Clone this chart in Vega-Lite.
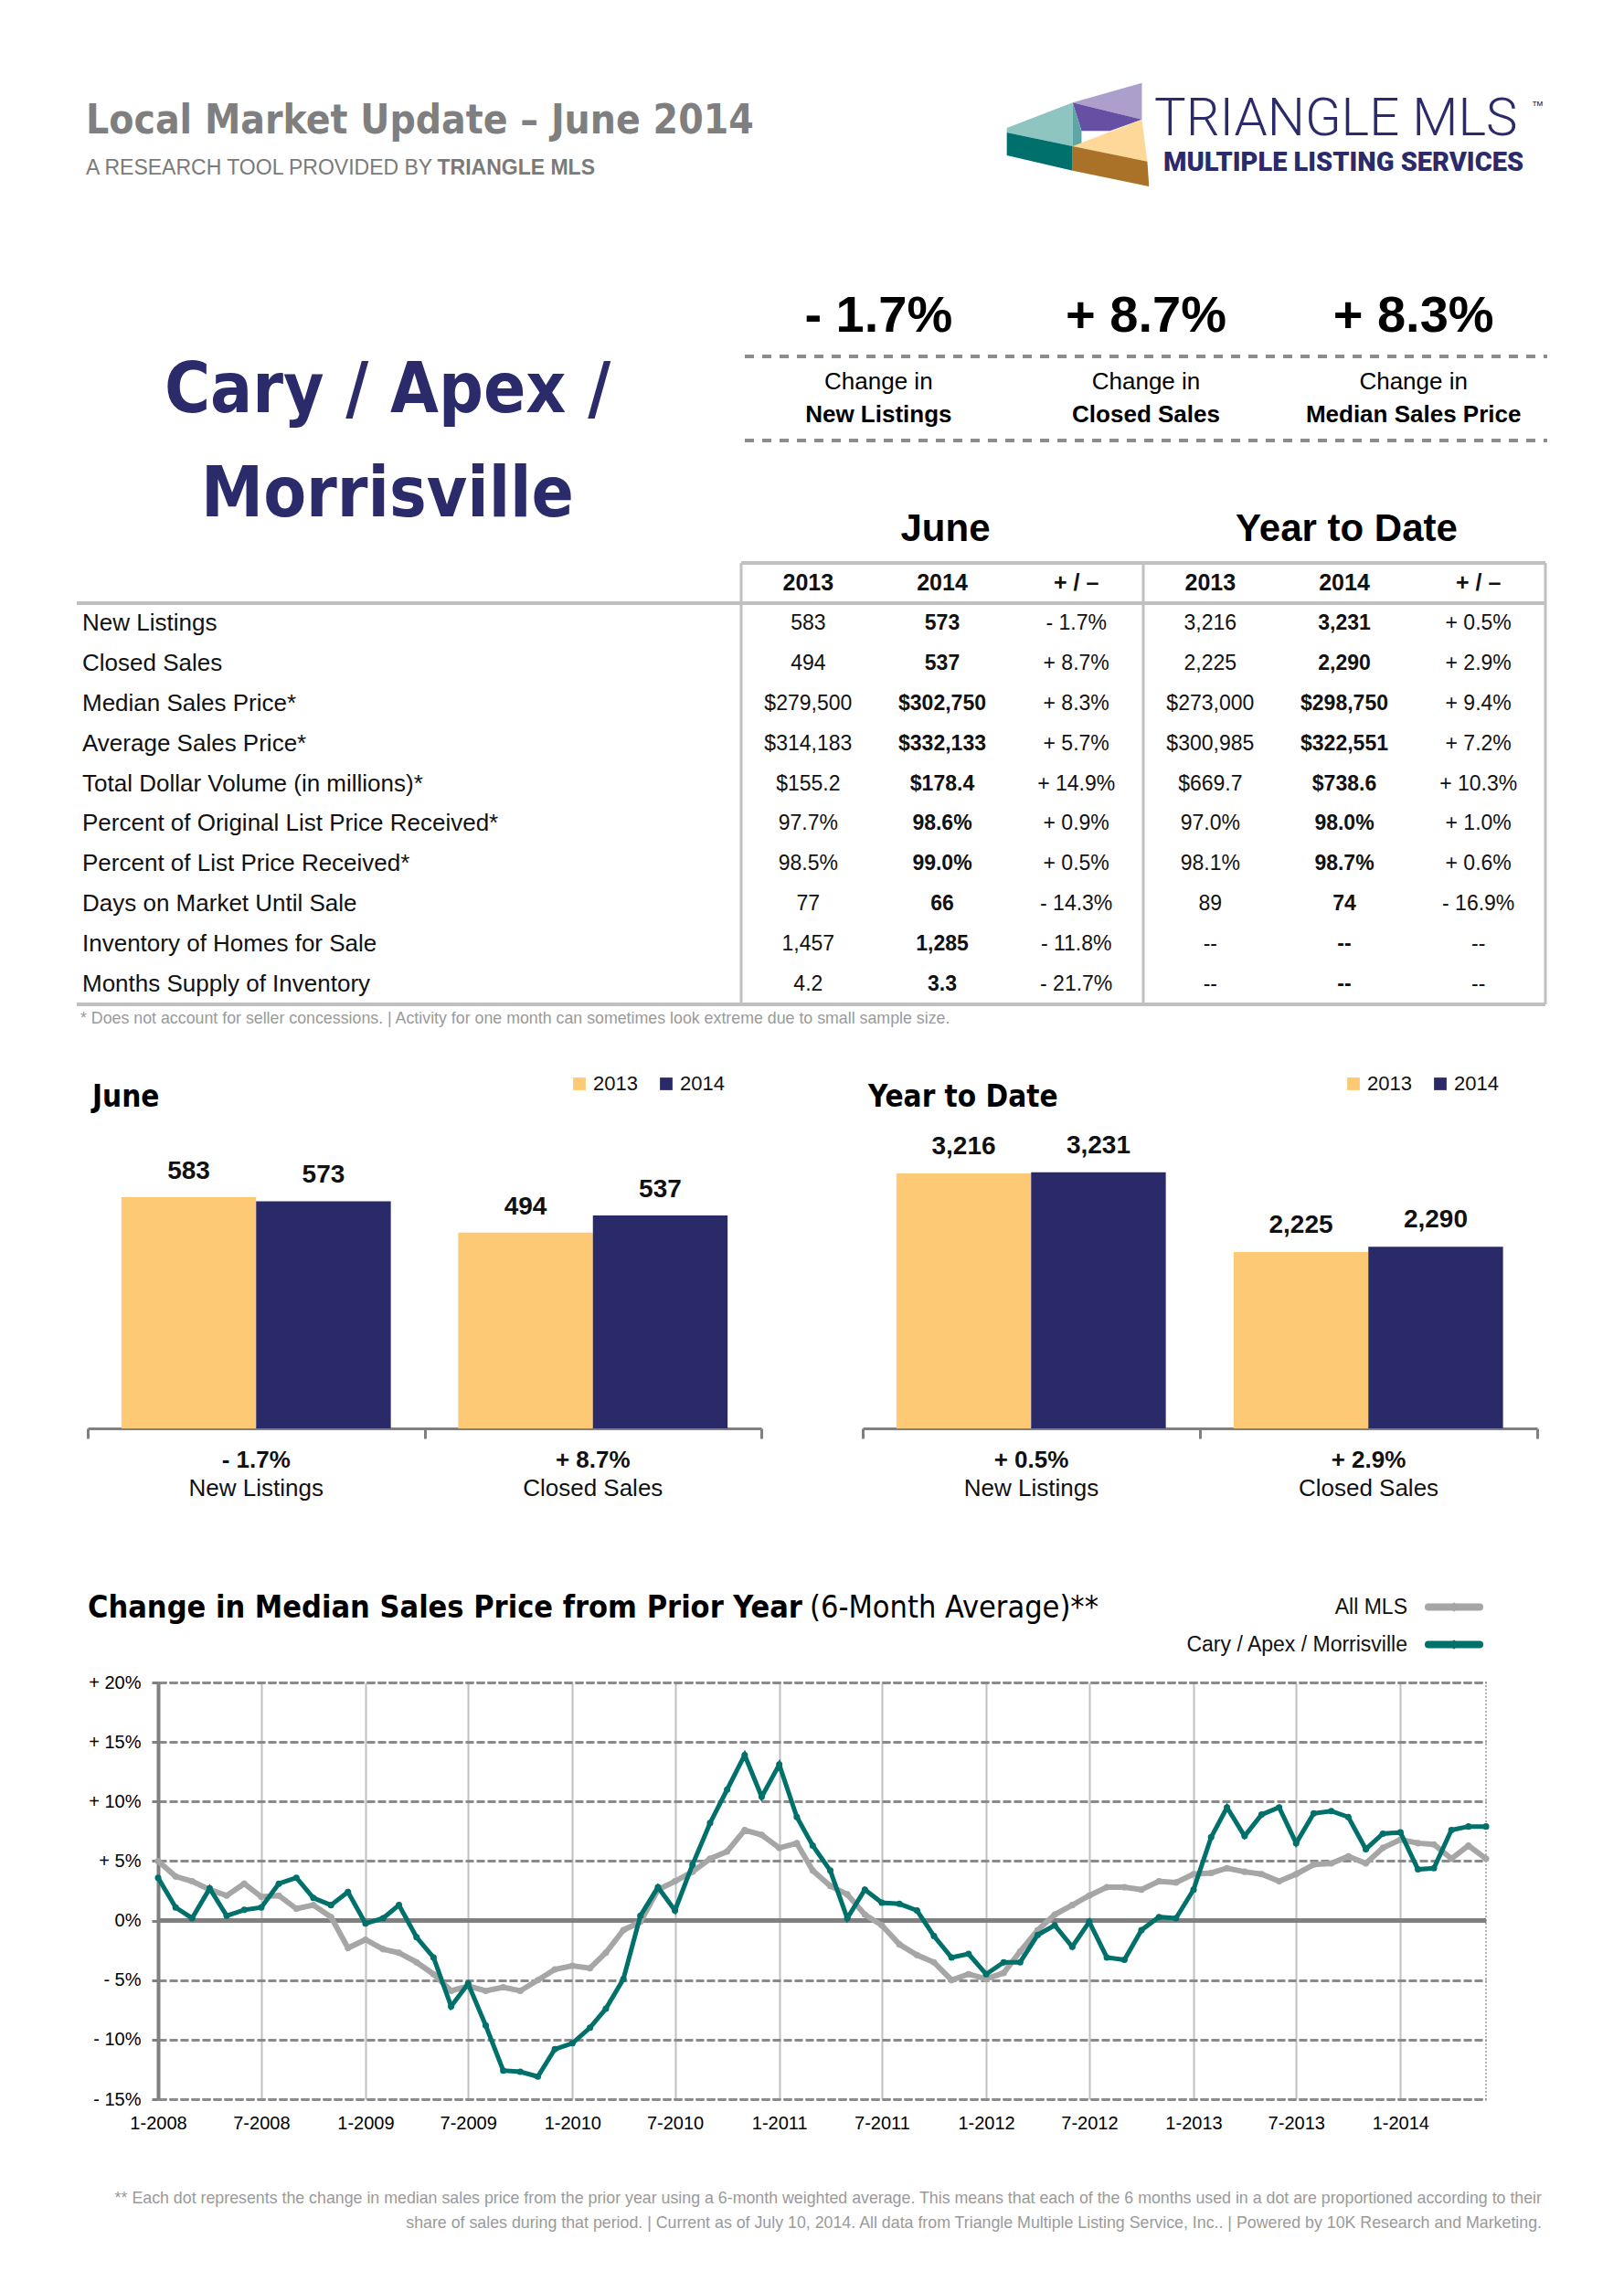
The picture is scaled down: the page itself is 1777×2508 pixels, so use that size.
{
  "$schema": "https://vega.github.io/schema/vega-lite/v6.json",
  "padding": 0,
  "background": "white",
  "config": {"view": {"stroke": null}, "font": "Liberation Sans"},
  "datasets": {
    "kpi": [
      {"l2": "New Listings", "v": "- 1.7%", "l1": "Change in"},
      {"l2": "Closed Sales", "v": "+ 8.7%", "l1": "Change in"},
      {"l2": "Median Sales Price", "v": "+ 8.3%", "l1": "Change in"}
    ],
    "tbl": [
      {"m": "hdr", "J13": "2013", "J14": "2014", "Jpm": "+ / –", "Y13": "2013", "Y14": "2014", "Ypm": "+ / –"},
      {"m": "New Listings", "J13": "583", "J14": "573", "Jpm": "- 1.7%", "Y13": "3,216", "Y14": "3,231", "Ypm": "+ 0.5%"},
      {"m": "Closed Sales", "J13": "494", "J14": "537", "Jpm": "+ 8.7%", "Y13": "2,225", "Y14": "2,290", "Ypm": "+ 2.9%"},
      {"m": "Median Sales Price*", "J13": "$279,500", "J14": "$302,750", "Jpm": "+ 8.3%", "Y13": "$273,000", "Y14": "$298,750", "Ypm": "+ 9.4%"},
      {"m": "Average Sales Price*", "J13": "$314,183", "J14": "$332,133", "Jpm": "+ 5.7%", "Y13": "$300,985", "Y14": "$322,551", "Ypm": "+ 7.2%"},
      {"m": "Total Dollar Volume (in millions)*", "J13": "$155.2", "J14": "$178.4", "Jpm": "+ 14.9%", "Y13": "$669.7", "Y14": "$738.6", "Ypm": "+ 10.3%"},
      {"m": "Percent of Original List Price Received*", "J13": "97.7%", "J14": "98.6%", "Jpm": "+ 0.9%", "Y13": "97.0%", "Y14": "98.0%", "Ypm": "+ 1.0%"},
      {"m": "Percent of List Price Received*", "J13": "98.5%", "J14": "99.0%", "Jpm": "+ 0.5%", "Y13": "98.1%", "Y14": "98.7%", "Ypm": "+ 0.6%"},
      {"m": "Days on Market Until Sale", "J13": "77", "J14": "66", "Jpm": "- 14.3%", "Y13": "89", "Y14": "74", "Ypm": "- 16.9%"},
      {"m": "Inventory of Homes for Sale", "J13": "1,457", "J14": "1,285", "Jpm": "- 11.8%", "Y13": "--", "Y14": "--", "Ypm": "--"},
      {"m": "Months Supply of Inventory", "J13": "4.2", "J14": "3.3", "Jpm": "- 21.7%", "Y13": "--", "Y14": "--", "Ypm": "--"}
    ],
    "bars": [
      {"chart": "June", "cat": "New Listings", "year": "2013", "v": 583},
      {"chart": "June", "cat": "New Listings", "year": "2014", "v": 573},
      {"chart": "June", "cat": "Closed Sales", "year": "2013", "v": 494},
      {"chart": "June", "cat": "Closed Sales", "year": "2014", "v": 537},
      {"chart": "Year to Date", "cat": "New Listings", "year": "2013", "v": 3216},
      {"chart": "Year to Date", "cat": "New Listings", "year": "2014", "v": 3231},
      {"chart": "Year to Date", "cat": "Closed Sales", "year": "2013", "v": 2225},
      {"chart": "Year to Date", "cat": "Closed Sales", "year": "2014", "v": 2290}
    ],
    "barpct": [
      {"chart": "June", "cat": "New Listings", "pct": "- 1.7%"},
      {"chart": "June", "cat": "Closed Sales", "pct": "+ 8.7%"},
      {"chart": "Year to Date", "cat": "New Listings", "pct": "+ 0.5%"},
      {"chart": "Year to Date", "cat": "Closed Sales", "pct": "+ 2.9%"}
    ],
    "leg": [{"s": "All MLS"}, {"s": "Cary / Apex / Morrisville"}],
    "foot": [
      {"l": 1, "t": "** Each dot represents the change in median sales price from the prior year using a 6-month weighted average. This means that each of the 6 months used in a dot are proportioned according to their"},
      {"l": 2, "t": "share of sales during that period.  |  Current as of July 10, 2014. All data from Triangle Multiple Listing Service, Inc..  |  Powered by 10K Research and Marketing."}
    ],
    "msp": [
      {"d": "2008-01-01", "mls": 5.0, "cary": 3.6},
      {"d": "2008-02-01", "mls": 3.7, "cary": 1.1},
      {"d": "2008-03-01", "mls": 3.3, "cary": 0.2},
      {"d": "2008-04-01", "mls": 2.6, "cary": 2.7},
      {"d": "2008-05-01", "mls": 2.1, "cary": 0.4},
      {"d": "2008-06-01", "mls": 3.1, "cary": 0.9},
      {"d": "2008-07-01", "mls": 2.0, "cary": 1.1},
      {"d": "2008-08-01", "mls": 2.1, "cary": 3.1},
      {"d": "2008-09-01", "mls": 1.0, "cary": 3.6},
      {"d": "2008-10-01", "mls": 1.3, "cary": 1.9},
      {"d": "2008-11-01", "mls": 0.3, "cary": 1.3},
      {"d": "2008-12-01", "mls": -2.3, "cary": 2.4},
      {"d": "2009-01-01", "mls": -1.6, "cary": -0.25},
      {"d": "2009-02-01", "mls": -2.4, "cary": 0.2},
      {"d": "2009-03-01", "mls": -2.7, "cary": 1.3},
      {"d": "2009-04-01", "mls": -3.5, "cary": -1.4},
      {"d": "2009-05-01", "mls": -4.5, "cary": -3.1},
      {"d": "2009-06-01", "mls": -5.9, "cary": -7.2},
      {"d": "2009-07-01", "mls": -5.5, "cary": -5.3},
      {"d": "2009-08-01", "mls": -5.9, "cary": -8.8},
      {"d": "2009-09-01", "mls": -5.6, "cary": -12.6},
      {"d": "2009-10-01", "mls": -5.9, "cary": -12.7},
      {"d": "2009-11-01", "mls": -5.0, "cary": -13.1},
      {"d": "2009-12-01", "mls": -4.1, "cary": -10.8},
      {"d": "2010-01-01", "mls": -3.8, "cary": -10.3},
      {"d": "2010-02-01", "mls": -4.0, "cary": -9.0},
      {"d": "2010-03-01", "mls": -2.7, "cary": -7.4},
      {"d": "2010-04-01", "mls": -0.8, "cary": -4.9},
      {"d": "2010-05-01", "mls": -0.1, "cary": 0.4},
      {"d": "2010-06-01", "mls": 2.6, "cary": 2.8},
      {"d": "2010-07-01", "mls": 3.3, "cary": 0.85},
      {"d": "2010-08-01", "mls": 4.1, "cary": 4.7},
      {"d": "2010-09-01", "mls": 5.2, "cary": 8.2},
      {"d": "2010-10-01", "mls": 5.8, "cary": 11.0},
      {"d": "2010-11-01", "mls": 7.6, "cary": 13.9},
      {"d": "2010-12-01", "mls": 7.2, "cary": 10.4},
      {"d": "2011-01-01", "mls": 6.1, "cary": 13.1},
      {"d": "2011-02-01", "mls": 6.5, "cary": 8.7},
      {"d": "2011-03-01", "mls": 4.2, "cary": 6.3},
      {"d": "2011-04-01", "mls": 2.9, "cary": 4.2},
      {"d": "2011-05-01", "mls": 2.2, "cary": 0.2},
      {"d": "2011-06-01", "mls": 0.5, "cary": 2.6},
      {"d": "2011-07-01", "mls": -0.4, "cary": 1.5},
      {"d": "2011-08-01", "mls": -2.0, "cary": 1.4},
      {"d": "2011-09-01", "mls": -2.9, "cary": 0.85},
      {"d": "2011-10-01", "mls": -3.5, "cary": -1.3},
      {"d": "2011-11-01", "mls": -5.0, "cary": -3.1},
      {"d": "2011-12-01", "mls": -4.5, "cary": -2.8},
      {"d": "2012-01-01", "mls": -4.9, "cary": -4.5},
      {"d": "2012-02-01", "mls": -4.4, "cary": -3.5},
      {"d": "2012-03-01", "mls": -2.6, "cary": -3.5},
      {"d": "2012-04-01", "mls": -0.8, "cary": -1.2},
      {"d": "2012-05-01", "mls": 0.5, "cary": -0.4},
      {"d": "2012-06-01", "mls": 1.3, "cary": -2.2},
      {"d": "2012-07-01", "mls": 2.1, "cary": -0.1},
      {"d": "2012-08-01", "mls": 2.8, "cary": -3.1},
      {"d": "2012-09-01", "mls": 2.8, "cary": -3.3},
      {"d": "2012-10-01", "mls": 2.6, "cary": -0.8},
      {"d": "2012-11-01", "mls": 3.3, "cary": 0.3},
      {"d": "2012-12-01", "mls": 3.2, "cary": 0.2},
      {"d": "2013-01-01", "mls": 3.9, "cary": 2.6},
      {"d": "2013-02-01", "mls": 4.0, "cary": 7.0},
      {"d": "2013-03-01", "mls": 4.4, "cary": 9.5},
      {"d": "2013-04-01", "mls": 4.1, "cary": 7.1},
      {"d": "2013-05-01", "mls": 3.9, "cary": 8.9},
      {"d": "2013-06-01", "mls": 3.3, "cary": 9.5},
      {"d": "2013-07-01", "mls": 3.9, "cary": 6.5},
      {"d": "2013-08-01", "mls": 4.7, "cary": 9.0},
      {"d": "2013-09-01", "mls": 4.8, "cary": 9.2},
      {"d": "2013-10-01", "mls": 5.4, "cary": 8.7},
      {"d": "2013-11-01", "mls": 4.8, "cary": 6.0},
      {"d": "2013-12-01", "mls": 6.1, "cary": 7.3},
      {"d": "2014-01-01", "mls": 6.8, "cary": 7.4},
      {"d": "2014-02-01", "mls": 6.5, "cary": 4.3},
      {"d": "2014-03-01", "mls": 6.4, "cary": 4.4},
      {"d": "2014-04-01", "mls": 5.2, "cary": 7.6},
      {"d": "2014-05-01", "mls": 6.3, "cary": 7.9},
      {"d": "2014-06-01", "mls": 5.2, "cary": 7.9}
    ]
  },
  "spacing": 0,
  "resolve": {"scale": {"color": "independent"}, "legend": {"color": "independent"}},
  "vconcat": [
    {"spacing": 0, "hconcat": [
      {"width": 94, "height": 232, "data": {"values": []}, "mark": "point"},
      {"spacing": 0, "bounds": "flush", "vconcat": [
        {"width": 1, "height": 107, "data": {"values": []}, "mark": "point"},
        {"width": 966, "height": 51, "data": {"values": [{"t": "Local Market Update – June 2014"}]},
         "mark": {"type": "text", "align": "left", "baseline": "middle", "font": "DejaVu Sans Condensed", "fontSize": 44, "fontWeight": "bold", "color": "#7f7f7f"},
         "encoding": {"text": {"field": "t"}, "x": {"datum": 0, "type": "quantitative", "scale": {"domain": [0, 1], "nice": false, "zero": false}, "axis": null}}},
        {"width": 557, "height": 52, "data": {"values": [{"a": "A RESEARCH TOOL PROVIDED BY", "b": "TRIANGLE MLS"}]}, "layer": [
          {"mark": {"type": "text", "align": "left", "baseline": "middle", "fontSize": 23, "color": "#7a7a7a"},
           "encoding": {"text": {"field": "a"}, "x": {"datum": 0, "type": "quantitative", "scale": {"domain": [0, 1], "nice": false, "zero": false}, "axis": null}}},
          {"mark": {"type": "text", "align": "right", "baseline": "middle", "fontSize": 23, "fontWeight": "bold", "color": "#7a7a7a"},
           "encoding": {"text": {"field": "b"}, "x": {"datum": 1, "type": "quantitative"}}}
        ]}
      ]},
      {"width": 40, "height": 1, "data": {"values": []}, "mark": "point"},
      {"spacing": 0, "bounds": "flush", "vconcat": [
        {"width": 1, "height": 67, "data": {"values": []}, "mark": "point"},
        {"width": 160, "height": 160, "data": {"values": [{}]}, "layer": [
          {"mark": {"type": "point", "shape": "M -0.079 -0.434 L 0.869 -0.704 L 0.869 -0.204 Z", "size": 25600, "filled": true, "opacity": 1, "strokeWidth": 0, "color": "#ad9fcb"}},
          {"mark": {"type": "point", "shape": "M -0.079 -0.434 L 0.869 -0.204 L 0.431 -0.046 L 0.043 -0.046 Z", "size": 25600, "filled": true, "opacity": 1, "strokeWidth": 0, "color": "#6650a4"}},
          {"mark": {"type": "point", "shape": "M -0.979 -0.0875 L -0.079 -0.434 L -0.079 0.1625 L -0.979 -0.025 Z", "size": 25600, "filled": true, "opacity": 1, "strokeWidth": 0, "color": "#8ec5c0"}},
          {"mark": {"type": "point", "shape": "M -0.079 -0.434 L 0.043 -0.046 L 0.043 0.1625 L -0.079 0.1625 Z", "size": 25600, "filled": true, "opacity": 1, "strokeWidth": 0, "color": "#5ea6a3"}},
          {"mark": {"type": "point", "shape": "M -0.979 -0.025 L -0.079 0.1625 L -0.079 0.496 L -0.979 0.2875 Z", "size": 25600, "filled": true, "opacity": 1, "strokeWidth": 0, "color": "#00706c"}},
          {"mark": {"type": "point", "shape": "M -0.079 0.1625 L 0.869 -0.204 L 0.943 0.371 Z", "size": 25600, "filled": true, "opacity": 1, "strokeWidth": 0, "color": "#fdd898"}},
          {"mark": {"type": "point", "shape": "M -0.079 0.1625 L 0.943 0.371 L 0.966 0.7125 L -0.079 0.496 Z", "size": 25600, "filled": true, "opacity": 1, "strokeWidth": 0, "color": "#a97228"}}
        ]}
      ]},
      {"width": 3, "height": 1, "data": {"values": []}, "mark": "point"},
      {"spacing": 0, "bounds": "flush", "vconcat": [
        {"width": 1, "height": 106, "data": {"values": []}, "mark": "point"},
        {"width": 413, "height": 49, "data": {"values": [{"t": "TRIANGLE MLS", "tm": "™"}]}, "layer": [
          {"mark": {"type": "text", "align": "left", "baseline": "middle", "font": "Roboto", "fontWeight": 300, "fontSize": 58, "color": "#2b2a6a"},
           "encoding": {"text": {"field": "t"}, "x": {"datum": 0, "type": "quantitative", "scale": {"domain": [0, 1], "nice": false, "zero": false}, "axis": null}}},
          {"mark": {"type": "text", "align": "left", "baseline": "middle", "fontSize": 13, "dy": -15, "color": "#2b2a6a"},
           "encoding": {"text": {"field": "tm"}, "x": {"datum": 1, "type": "quantitative"}}}
        ]},
        {"width": 413, "height": 46, "data": {"values": [{"t": "MULTIPLE LISTING SERVICES"}]},
         "mark": {"type": "text", "align": "left", "baseline": "middle", "font": "Roboto", "fontWeight": 900, "fontSize": 29, "dx": 10, "color": "#2b2a6a"},
         "encoding": {"text": {"field": "t"}, "x": {"datum": 0, "type": "quantitative", "scale": {"domain": [0, 1], "nice": false, "zero": false}, "axis": null}}}
      ]}
    ]},
    {"spacing": 0, "hconcat": [
      {"width": 35, "height": 368, "data": {"values": []}, "mark": "point"},
      {"spacing": 0, "bounds": "flush", "vconcat": [
        {"width": 1, "height": 140, "data": {"values": []}, "mark": "point"},
        {"width": 778, "height": 111, "data": {"values": [{"t": "Cary / Apex /"}]},
         "mark": {"type": "text", "baseline": "middle", "font": "DejaVu Sans Condensed", "fontSize": 76, "fontWeight": "bold", "color": "#2b2a6b"},
         "encoding": {"text": {"field": "t"}}},
        {"width": 778, "height": 117, "data": {"values": [{"t": "Morrisville"}]},
         "mark": {"type": "text", "baseline": "middle", "font": "DejaVu Sans Condensed", "fontSize": 76, "fontWeight": "bold", "color": "#2b2a6b"},
         "encoding": {"text": {"field": "t"}}}
      ]},
      {"spacing": 0, "bounds": "flush", "vconcat": [
        {"width": 1, "height": 71, "data": {"values": []}, "mark": "point"},
        {"width": 878, "height": 85, "data": {"name": "kpi"},
         "mark": {"type": "text", "baseline": "middle", "fontSize": 56, "fontWeight": "bold", "color": "#000"},
         "encoding": {"text": {"field": "v"}, "x": {"field": "l2", "type": "nominal", "sort": null, "scale": {"type": "band", "domain": ["New Listings", "Closed Sales", "Median Sales Price"], "paddingInner": 0, "paddingOuter": 0}, "axis": null}}},
        {"width": 878, "height": 4, "data": {"values": [{}]},
         "mark": {"type": "rule", "color": "#8c8c8c", "strokeWidth": 4, "strokeDash": [10, 9]},
         "encoding": {"x": {"datum": 0, "type": "quantitative", "scale": {"domain": [0, 1], "nice": false, "zero": false}, "axis": null}, "x2": {"datum": 1}}},
        {"width": 878, "height": 52, "data": {"name": "kpi"},
         "mark": {"type": "text", "baseline": "middle", "fontSize": 26, "color": "#000"},
         "encoding": {"text": {"field": "l1"}, "x": {"field": "l2", "type": "nominal", "sort": null, "scale": {"type": "band", "domain": ["New Listings", "Closed Sales", "Median Sales Price"], "paddingInner": 0, "paddingOuter": 0}, "axis": null}}},
        {"width": 878, "height": 20, "data": {"name": "kpi"},
         "mark": {"type": "text", "baseline": "middle", "fontSize": 26, "fontWeight": "bold", "color": "#000"},
         "encoding": {"text": {"field": "l2"}, "x": {"field": "l2", "type": "nominal", "sort": null, "scale": {"type": "band", "domain": ["New Listings", "Closed Sales", "Median Sales Price"], "paddingInner": 0, "paddingOuter": 0}, "axis": null}}},
        {"width": 1, "height": 16, "data": {"values": []}, "mark": "point"},
        {"width": 878, "height": 4, "data": {"values": [{}]},
         "mark": {"type": "rule", "color": "#8c8c8c", "strokeWidth": 4, "strokeDash": [10, 9]},
         "encoding": {"x": {"datum": 0, "type": "quantitative", "scale": {"domain": [0, 1], "nice": false, "zero": false}, "axis": null}, "x2": {"datum": 1}}},
        {"width": 1, "height": 73, "data": {"values": []}, "mark": "point"},
        {"width": 878, "height": 43, "data": {"values": [{"h": "June"}, {"h": "Year to Date"}]},
         "mark": {"type": "text", "baseline": "middle", "fontSize": 42, "fontWeight": "bold", "color": "#000"},
         "encoding": {"text": {"field": "h"}, "x": {"field": "h", "type": "nominal", "sort": null, "scale": {"type": "band", "domain": ["June", "Year to Date"], "paddingInner": 0, "paddingOuter": 0}, "axis": null}}}
      ]}
    ]},
    {"spacing": 0, "vconcat": [
      {"width": 1, "height": 14, "data": {"values": []}, "mark": "point"},
      {"spacing": 0, "bounds": "flush", "hconcat": [
        {"width": 84, "height": 1, "data": {"values": []}, "mark": "point"},
        {"width": 727, "height": 483, "data": {"name": "tbl"}, "layer": [
          {"transform": [{"filter": "datum.m != 'hdr'"}],
           "mark": {"type": "text", "align": "left", "baseline": "middle", "fontSize": 26, "color": "#111", "dx": 6},
           "encoding": {"text": {"field": "m"},
             "x": {"datum": 0, "type": "quantitative", "scale": {"domain": [0, 1], "nice": false, "zero": false}, "axis": null},
             "y": {"field": "m", "type": "nominal", "sort": null, "scale": {"type": "band", "domain": ["hdr", "New Listings", "Closed Sales", "Median Sales Price*", "Average Sales Price*", "Total Dollar Volume (in millions)*", "Percent of Original List Price Received*", "Percent of List Price Received*", "Days on Market Until Sale", "Inventory of Homes for Sale", "Months Supply of Inventory"], "paddingInner": 0, "paddingOuter": 0}, "axis": null}}},
          {"transform": [{"filter": "datum.m == 'New Listings'"}],
           "mark": {"type": "rule", "color": "#c0c0c0", "strokeWidth": 4},
           "encoding": {"x": {"datum": 0, "type": "quantitative"}, "x2": {"datum": 1},
             "y": {"field": "m", "type": "nominal", "sort": null, "bandPosition": 0, "axis": null}}},
          {"transform": [{"filter": "datum.m == 'Months Supply of Inventory'"}],
           "mark": {"type": "rule", "color": "#c0c0c0", "strokeWidth": 4},
           "encoding": {"x": {"datum": 0, "type": "quantitative"}, "x2": {"datum": 1},
             "y": {"field": "m", "type": "nominal", "sort": null, "bandPosition": 1, "axis": null}}}
        ]},
        {"width": 880, "height": 483, "data": {"name": "tbl"},
         "encoding": {"y": {"field": "m", "type": "nominal", "sort": null, "scale": {"type": "band", "domain": ["hdr", "New Listings", "Closed Sales", "Median Sales Price*", "Average Sales Price*", "Total Dollar Volume (in millions)*", "Percent of Original List Price Received*", "Percent of List Price Received*", "Days on Market Until Sale", "Inventory of Homes for Sale", "Months Supply of Inventory"], "paddingInner": 0, "paddingOuter": 0}, "axis": null}},
         "layer": [
          {"transform": [{"filter": "datum.m == 'hdr'"}, {"fold": ["J13", "J14", "Jpm", "Y13", "Y14", "Ypm"], "as": ["col", "val"]}],
           "mark": {"type": "text", "baseline": "middle", "fontSize": 25, "fontWeight": "bold", "color": "#111"},
           "encoding": {"text": {"field": "val"}, "x": {"field": "col", "type": "nominal", "sort": null, "scale": {"type": "band", "domain": ["J13", "J14", "Jpm", "Y13", "Y14", "Ypm"], "paddingInner": 0, "paddingOuter": 0}, "axis": null}}},
          {"transform": [{"filter": "datum.m != 'hdr'"}, {"fold": ["J13", "Jpm", "Y13", "Ypm"], "as": ["col", "val"]}],
           "mark": {"type": "text", "baseline": "middle", "fontSize": 23, "color": "#111"},
           "encoding": {"text": {"field": "val"}, "x": {"field": "col", "type": "nominal", "sort": null, "axis": null}}},
          {"transform": [{"filter": "datum.m != 'hdr'"}, {"fold": ["J14", "Y14"], "as": ["col", "val"]}],
           "mark": {"type": "text", "baseline": "middle", "fontSize": 23, "fontWeight": "bold", "color": "#111"},
           "encoding": {"text": {"field": "val"}, "x": {"field": "col", "type": "nominal", "sort": null, "axis": null}}},
          {"transform": [{"filter": "datum.m == 'hdr'"}],
           "mark": {"type": "rule", "color": "#c0c0c0", "strokeWidth": 4},
           "encoding": {"y": {"field": "m", "type": "nominal", "sort": null, "bandPosition": 0, "axis": null}}},
          {"transform": [{"filter": "datum.m == 'New Listings'"}],
           "mark": {"type": "rule", "color": "#c0c0c0", "strokeWidth": 4},
           "encoding": {"y": {"field": "m", "type": "nominal", "sort": null, "bandPosition": 0, "axis": null}}},
          {"transform": [{"filter": "datum.m == 'Months Supply of Inventory'"}],
           "mark": {"type": "rule", "color": "#c0c0c0", "strokeWidth": 4},
           "encoding": {"y": {"field": "m", "type": "nominal", "sort": null, "bandPosition": 1, "axis": null}}},
          {"data": {"values": [{"col": "J13"}, {"col": "Y13"}]},
           "mark": {"type": "rule", "color": "#c0c0c0", "strokeWidth": 3},
           "encoding": {"y": null, "x": {"field": "col", "type": "nominal", "sort": null, "bandPosition": 0, "axis": null}}},
          {"data": {"values": [{"col": "Ypm"}]},
           "mark": {"type": "rule", "color": "#c0c0c0", "strokeWidth": 3},
           "encoding": {"y": null, "x": {"field": "col", "type": "nominal", "sort": null, "bandPosition": 1, "axis": null}}}
        ]}
      ]},
      {"spacing": 0, "bounds": "flush", "hconcat": [
        {"width": 88, "height": 1, "data": {"values": []}, "mark": "point"},
        {"width": 1000, "height": 28, "data": {"values": [{"t": "* Does not account for seller concessions.  |  Activity for one month can sometimes look extreme due to small sample size."}]},
         "mark": {"type": "text", "align": "left", "baseline": "middle", "fontSize": 17.8, "color": "#9a9a9a"},
         "encoding": {"text": {"field": "t"}, "x": {"datum": 0, "type": "quantitative", "scale": {"domain": [0, 1], "nice": false, "zero": false}, "axis": null}}}
      ]},
      {"width": 1, "height": 6, "data": {"values": []}, "mark": "point"}
    ]},
    {"spacing": 0, "resolve": {"scale": {"color": "independent"}, "legend": {"color": "independent"}}, "hconcat": [
      {"width": 94, "height": 525, "data": {"values": []}, "mark": "point"},
      {"spacing": 0, "bounds": "flush", "vconcat": [
        {"width": 1, "height": 51, "data": {"values": []}, "mark": "point"},
        {"width": 737, "height": 30, "data": {"values": [{"t": "June"}]},
         "mark": {"type": "text", "align": "left", "baseline": "middle", "dx": 5, "font": "DejaVu Sans Condensed", "fontSize": 33, "fontWeight": "bold", "color": "#000"},
         "encoding": {"text": {"field": "t"}, "x": {"datum": 0, "type": "quantitative", "scale": {"domain": [0, 1], "nice": false, "zero": false}, "axis": null}}},
        {"width": 737, "height": 347, "layer": [
          {"data": {"name": "bars"}, "transform": [{"filter": "datum.chart == 'June'"}],
           "mark": {"type": "bar"},
           "encoding": {
             "x": {"field": "cat", "type": "nominal", "sort": null, "scale": {"domain": ["New Listings", "Closed Sales"], "paddingInner": 0, "paddingOuter": 0}, "axis": {"title": null, "labels": false, "domain": true, "domainColor": "#808080", "domainWidth": 3, "ticks": true, "tickBand": "extent", "tickColor": "#808080", "tickWidth": 3, "tickSize": 11, "grid": false}},
             "xOffset": {"field": "year", "type": "nominal", "scale": {"domain": ["2013", "2014"], "paddingInner": 0, "paddingOuter": 0.25}},
             "y": {"field": "v", "type": "quantitative", "scale": {"domain": [0, 800], "nice": false, "zero": true}, "axis": null},
             "color": {"field": "year", "type": "nominal", "scale": {"domain": ["2013", "2014"], "range": ["#fdc974", "#2b2a69"]},
               "legend": {"title": null, "orient": "none", "legendX": 527, "legendY": 40, "direction": "horizontal", "symbolType": "square", "symbolSize": 190, "symbolStrokeWidth": 0, "labelFontSize": 22, "labelColor": "#111", "labelOffset": 4, "columnPadding": 20}}
           }},
          {"data": {"name": "bars"}, "transform": [{"filter": "datum.chart == 'June'"}],
           "mark": {"type": "text", "baseline": "alphabetic", "dy": -20, "fontSize": 28, "fontWeight": "bold", "color": "#111"},
           "encoding": {
             "x": {"field": "cat", "type": "nominal", "sort": null, "axis": {"title": null, "labels": false, "domain": true, "domainColor": "#808080", "domainWidth": 3, "ticks": true, "tickBand": "extent", "tickColor": "#808080", "tickWidth": 3, "tickSize": 11, "grid": false}},
             "xOffset": {"field": "year", "type": "nominal"},
             "y": {"field": "v", "type": "quantitative", "axis": null},
             "text": {"field": "v", "type": "quantitative", "format": ","}
           }},
          {"data": {"name": "barpct"}, "transform": [{"filter": "datum.chart == 'June'"}],
           "mark": {"type": "text", "baseline": "middle", "dy": 34.5, "fontSize": 26, "fontWeight": "bold", "color": "#111"},
           "encoding": {
             "x": {"field": "cat", "type": "nominal", "sort": null, "axis": {"title": null, "labels": false, "domain": true, "domainColor": "#808080", "domainWidth": 3, "ticks": true, "tickBand": "extent", "tickColor": "#808080", "tickWidth": 3, "tickSize": 11, "grid": false}},
             "y": {"datum": 0, "type": "quantitative", "axis": null},
             "text": {"field": "pct"}
           }},
          {"data": {"name": "barpct"}, "transform": [{"filter": "datum.chart == 'June'"}],
           "mark": {"type": "text", "baseline": "middle", "dy": 65.5, "fontSize": 26, "color": "#111"},
           "encoding": {
             "x": {"field": "cat", "type": "nominal", "sort": null, "axis": {"title": null, "labels": false, "domain": true, "domainColor": "#808080", "domainWidth": 3, "ticks": true, "tickBand": "extent", "tickColor": "#808080", "tickWidth": 3, "tickSize": 11, "grid": false}},
             "y": {"datum": 0, "type": "quantitative", "axis": null},
             "text": {"field": "cat"}
           }}
        ]}
      ]},
      {"width": 107, "height": 1, "data": {"values": []}, "mark": "point"},
      {"spacing": 0, "bounds": "flush", "vconcat": [
        {"width": 1, "height": 51, "data": {"values": []}, "mark": "point"},
        {"width": 738, "height": 30, "data": {"values": [{"t": "Year to Date"}]},
         "mark": {"type": "text", "align": "left", "baseline": "middle", "dx": 6, "font": "DejaVu Sans Condensed", "fontSize": 33, "fontWeight": "bold", "color": "#000"},
         "encoding": {"text": {"field": "t"}, "x": {"datum": 0, "type": "quantitative", "scale": {"domain": [0, 1], "nice": false, "zero": false}, "axis": null}}},
        {"width": 738, "height": 347, "layer": [
          {"data": {"name": "bars"}, "transform": [{"filter": "datum.chart == 'Year to Date'"}],
           "mark": {"type": "bar"},
           "encoding": {
             "x": {"field": "cat", "type": "nominal", "sort": null, "scale": {"domain": ["New Listings", "Closed Sales"], "paddingInner": 0, "paddingOuter": 0}, "axis": {"title": null, "labels": false, "domain": true, "domainColor": "#808080", "domainWidth": 3, "ticks": true, "tickBand": "extent", "tickColor": "#808080", "tickWidth": 3, "tickSize": 11, "grid": false}},
             "xOffset": {"field": "year", "type": "nominal", "scale": {"domain": ["2013", "2014"], "paddingInner": 0, "paddingOuter": 0.25}},
             "y": {"field": "v", "type": "quantitative", "scale": {"domain": [0, 4000], "nice": false, "zero": true}, "axis": null},
             "color": {"field": "year", "type": "nominal", "scale": {"domain": ["2013", "2014"], "range": ["#fdc974", "#2b2a69"]},
               "legend": {"title": null, "orient": "none", "legendX": 526, "legendY": 40, "direction": "horizontal", "symbolType": "square", "symbolSize": 190, "symbolStrokeWidth": 0, "labelFontSize": 22, "labelColor": "#111", "labelOffset": 4, "columnPadding": 20}}
           }},
          {"data": {"name": "bars"}, "transform": [{"filter": "datum.chart == 'Year to Date'"}],
           "mark": {"type": "text", "baseline": "alphabetic", "dy": -21, "fontSize": 28, "fontWeight": "bold", "color": "#111"},
           "encoding": {
             "x": {"field": "cat", "type": "nominal", "sort": null, "axis": {"title": null, "labels": false, "domain": true, "domainColor": "#808080", "domainWidth": 3, "ticks": true, "tickBand": "extent", "tickColor": "#808080", "tickWidth": 3, "tickSize": 11, "grid": false}},
             "xOffset": {"field": "year", "type": "nominal"},
             "y": {"field": "v", "type": "quantitative", "axis": null},
             "text": {"field": "v", "type": "quantitative", "format": ","}
           }},
          {"data": {"name": "barpct"}, "transform": [{"filter": "datum.chart == 'Year to Date'"}],
           "mark": {"type": "text", "baseline": "middle", "dy": 34.5, "fontSize": 26, "fontWeight": "bold", "color": "#111"},
           "encoding": {
             "x": {"field": "cat", "type": "nominal", "sort": null, "axis": {"title": null, "labels": false, "domain": true, "domainColor": "#808080", "domainWidth": 3, "ticks": true, "tickBand": "extent", "tickColor": "#808080", "tickWidth": 3, "tickSize": 11, "grid": false}},
             "y": {"datum": 0, "type": "quantitative", "axis": null},
             "text": {"field": "pct"}
           }},
          {"data": {"name": "barpct"}, "transform": [{"filter": "datum.chart == 'Year to Date'"}],
           "mark": {"type": "text", "baseline": "middle", "dy": 65.5, "fontSize": 26, "color": "#111"},
           "encoding": {
             "x": {"field": "cat", "type": "nominal", "sort": null, "axis": {"title": null, "labels": false, "domain": true, "domainColor": "#808080", "domainWidth": 3, "ticks": true, "tickBand": "extent", "tickColor": "#808080", "tickWidth": 3, "tickSize": 11, "grid": false}},
             "y": {"datum": 0, "type": "quantitative", "axis": null},
             "text": {"field": "cat"}
           }}
        ]}
      ]}
    ]},
    {"spacing": 0, "vconcat": [
      {"width": 1, "height": 78, "data": {"values": []}, "mark": "point"},
      {"spacing": 0, "bounds": "flush", "hconcat": [
        {"width": 96, "height": 1, "data": {"values": []}, "mark": "point"},
        {"width": 790, "height": 44, "data": {"values": [{"t": "Change in Median Sales Price from Prior Year"}]},
         "mark": {"type": "text", "align": "left", "baseline": "middle", "font": "DejaVu Sans Condensed", "fontSize": 34, "fontWeight": "bold", "color": "#000"},
         "encoding": {"text": {"field": "t"}, "x": {"datum": 0, "type": "quantitative", "scale": {"domain": [0, 1], "nice": false, "zero": false}, "axis": null}}},
        {"width": 394, "height": 44, "data": {"values": [{"t": "(6-Month Average)**"}]},
         "mark": {"type": "text", "align": "left", "baseline": "middle", "font": "DejaVu Sans Condensed", "fontSize": 34, "color": "#000"},
         "encoding": {"text": {"field": "t"}, "x": {"datum": 0, "type": "quantitative", "scale": {"domain": [0, 1], "nice": false, "zero": false}, "axis": null}}},
        {"width": 260, "height": 82, "data": {"name": "leg"},
         "mark": {"type": "text", "align": "right", "baseline": "middle", "fontSize": 23, "color": "#111"},
         "encoding": {"text": {"field": "s"},
           "x": {"datum": 1, "type": "quantitative", "scale": {"domain": [0, 1], "nice": false, "zero": false}, "axis": null},
           "y": {"field": "s", "type": "nominal", "sort": null, "scale": {"type": "point", "domain": ["All MLS", "Cary / Apex / Morrisville"], "padding": 0.5}, "axis": null}}},
        {"width": 23, "height": 1, "data": {"values": []}, "mark": "point"},
        {"width": 56, "height": 82, "data": {"name": "leg"},
         "encoding": {"y": {"field": "s", "type": "nominal", "sort": null, "scale": {"type": "point", "domain": ["All MLS", "Cary / Apex / Morrisville"], "padding": 0.5}, "axis": null}},
         "layer": [
          {"transform": [{"filter": "datum.s == 'All MLS'"}],
           "mark": {"type": "rule", "color": "#a6a6a6", "strokeWidth": 8, "strokeCap": "round"},
           "encoding": {"x": {"datum": 0, "type": "quantitative", "scale": {"domain": [0, 1], "nice": false, "zero": false}, "axis": null}, "x2": {"datum": 1}}},
          {"transform": [{"filter": "datum.s == 'All MLS'"}],
           "mark": {"type": "point", "shape": "diamond", "filled": true, "opacity": 1, "size": 110, "color": "#a6a6a6"},
           "encoding": {"x": {"datum": 0.5, "type": "quantitative"}}},
          {"transform": [{"filter": "datum.s != 'All MLS'"}],
           "mark": {"type": "rule", "color": "#00706b", "strokeWidth": 8, "strokeCap": "round"},
           "encoding": {"x": {"datum": 0, "type": "quantitative"}, "x2": {"datum": 1}}},
          {"transform": [{"filter": "datum.s != 'All MLS'"}],
           "mark": {"type": "point", "shape": "diamond", "filled": true, "opacity": 1, "size": 110, "color": "#00706b"},
           "encoding": {"x": {"datum": 0.5, "type": "quantitative"}}}
        ]}
      ]},
      {"width": 1, "height": 10, "data": {"values": []}, "mark": "point"},
      {"spacing": 0, "bounds": "flush", "hconcat": [
        {"width": 173, "height": 1, "data": {"values": []}, "mark": "point"},
        {"width": 1453, "height": 456,
         "view": {"stroke": "#9a9a9a", "strokeDash": [2, 2], "strokeWidth": 1.5},
         "layer": [
          {"data": {"values": [{}]},
           "mark": {"type": "rule", "color": "#808080", "strokeWidth": 5},
           "encoding": {"y": {"datum": 0, "type": "quantitative", "scale": {"domain": [-15, 20], "nice": false, "zero": false},
             "axis": {"title": null, "values": [-15, -10, -5, 0, 5, 10, 15, 20], "labelExpr": "datum.value > 0 ? '+ ' + datum.value + '%' : (datum.value < 0 ? '- ' + (-datum.value) + '%' : '0%')", "grid": true, "gridColor": "#8a8a8a", "gridWidth": 3, "gridDash": [9, 3], "domain": true, "domainColor": "#808080", "domainWidth": 4, "ticks": true, "tickColor": "#808080", "tickWidth": 3, "tickSize": 7, "labelPadding": 12, "labelFontSize": 20, "labelColor": "#000"}}}},
          {"data": {"name": "msp"},
           "mark": {"type": "line", "color": "#a6a6a6", "strokeWidth": 6, "point": {"filled": true, "size": 50, "color": "#a6a6a6"}},
           "encoding": {
             "x": {"field": "d", "type": "temporal", "scale": {"type": "utc", "domain": [{"year": 2008, "month": 1, "date": 1, "utc": true}, {"year": 2014, "month": 6, "date": 1, "utc": true}]},
               "axis": {"title": null, "grid": true, "gridColor": "#c0c0c0", "gridWidth": 2, "domain": false, "ticks": false, "tickCount": {"interval": "month", "step": 6}, "labelExpr": "utcFormat(datum.value, '%-m-%Y')", "labelFontSize": 20, "labelColor": "#000", "labelPadding": 16, "labelFlush": false, "labelOverlap": false}},
             "y": {"field": "mls", "type": "quantitative", "scale": {"domain": [-15, 20], "nice": false, "zero": false},
               "axis": {"title": null, "values": [-15, -10, -5, 0, 5, 10, 15, 20], "labelExpr": "datum.value > 0 ? '+ ' + datum.value + '%' : (datum.value < 0 ? '- ' + (-datum.value) + '%' : '0%')", "grid": true, "gridColor": "#8a8a8a", "gridWidth": 3, "gridDash": [9, 3], "domain": true, "domainColor": "#808080", "domainWidth": 4, "ticks": true, "tickColor": "#808080", "tickWidth": 3, "tickSize": 7, "labelPadding": 12, "labelFontSize": 20, "labelColor": "#000"}}
           }},
          {"data": {"name": "msp"},
           "mark": {"type": "line", "color": "#00706b", "strokeWidth": 5, "point": {"filled": true, "size": 50, "color": "#00706b"}},
           "encoding": {
             "x": {"field": "d", "type": "temporal",
               "axis": {"title": null, "grid": true, "gridColor": "#c0c0c0", "gridWidth": 2, "domain": false, "ticks": false, "tickCount": {"interval": "month", "step": 6}, "labelExpr": "utcFormat(datum.value, '%-m-%Y')", "labelFontSize": 20, "labelColor": "#000", "labelPadding": 16, "labelFlush": false, "labelOverlap": false}},
             "y": {"field": "cary", "type": "quantitative",
               "axis": {"title": null, "values": [-15, -10, -5, 0, 5, 10, 15, 20], "labelExpr": "datum.value > 0 ? '+ ' + datum.value + '%' : (datum.value < 0 ? '- ' + (-datum.value) + '%' : '0%')", "grid": true, "gridColor": "#8a8a8a", "gridWidth": 3, "gridDash": [9, 3], "domain": true, "domainColor": "#808080", "domainWidth": 4, "ticks": true, "tickColor": "#808080", "tickWidth": 3, "tickSize": 7, "labelPadding": 12, "labelFontSize": 20, "labelColor": "#000"}}
           }}
        ]}
      ]}
    ]},
    {"spacing": 0, "bounds": "flush", "vconcat": [
      {"width": 1, "height": 58, "data": {"values": []}, "mark": "point"},
      {"width": 1687, "height": 54, "data": {"name": "foot"},
       "mark": {"type": "text", "align": "right", "baseline": "middle", "fontSize": 17.8, "color": "#9a9a9a"},
       "encoding": {"text": {"field": "t"},
         "x": {"datum": 1, "type": "quantitative", "scale": {"domain": [0, 1], "nice": false, "zero": false}, "axis": null},
         "y": {"field": "l", "type": "ordinal", "scale": {"type": "point", "padding": 0.5}, "axis": null}}}
    ]}
  ]
}
